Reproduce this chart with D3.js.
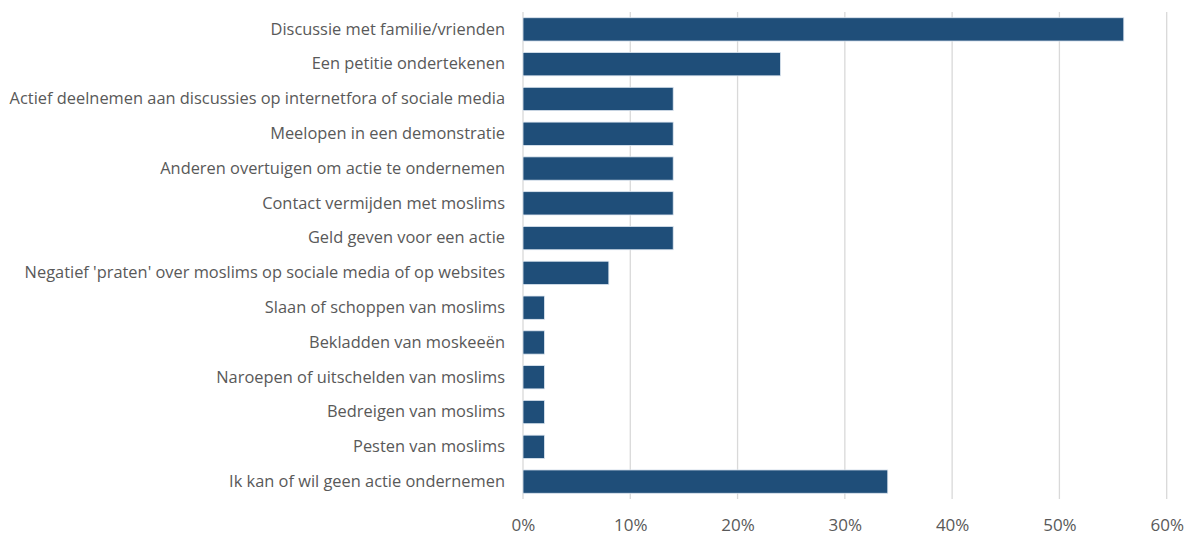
<!DOCTYPE html>
<html>
<head>
<meta charset="utf-8">
<script src="https://cdnjs.cloudflare.com/ajax/libs/d3/7.8.5/d3.min.js"></script>
<style>
  body { margin: 0; background: #fff; }
  text { font-family: "Open Sans", "Noto Sans", sans-serif; fill: #595959; }
</style>
</head>
<body>
<script>
// data
var categories = [
  "Discussie met familie/vrienden",
  "Een petitie ondertekenen",
  "Actief deelnemen aan discussies op internetfora of sociale media",
  "Meelopen in een demonstratie",
  "Anderen overtuigen om actie te ondernemen",
  "Contact vermijden met moslims",
  "Geld geven voor een actie",
  "Negatief 'praten' over moslims op sociale media of op websites",
  "Slaan of schoppen van moslims",
  "Bekladden van moskeeën",
  "Naroepen of uitschelden van moslims",
  "Bedreigen van moslims",
  "Pesten van moslims",
  "Ik kan of wil geen actie ondernemen"
];
var values = [56, 24, 14, 14, 14, 14, 14, 8, 2, 2, 2, 2, 2, 34];
var xTicks = [0, 10, 20, 30, 40, 50, 60];

// layout
var margin = {top: 12, right: 25, bottom: 37, left: 523},
    width = 1192 - margin.left - margin.right,
    height = 536 - margin.top - margin.bottom;

var x = d3.scaleLinear().domain([0, 60]).range([0, 1166.7 - margin.left]);
var y = d3.scaleBand().domain(categories).range([0, 487]).paddingInner(0.33).paddingOuter(0.165);

var svg = d3.select("body").append("svg")
    .attr("width", 1192)
    .attr("height", 536);

var g = svg.append("g")
    .attr("transform", "translate(" + margin.left + "," + margin.top + ")");

// grid lines
g.selectAll(".grid")
  .data(xTicks)
  .enter().append("line")
    .attr("class", "grid")
    .attr("x1", function(d) { return x(d); })
    .attr("x2", function(d) { return x(d); })
    .attr("y1", 0)
    .attr("y2", 487)
    .attr("stroke", "#d9d9d9")
    .attr("stroke-width", 1.3);

// bars
g.selectAll(".bar")
  .data(values)
  .enter().append("rect")
    .attr("class", "bar")
    .attr("x", x(0))
    .attr("y", function(d, i) { return y(categories[i]); })
    .attr("width", function(d) { return x(d) - x(0); })
    .attr("height", y.bandwidth())
    .attr("fill", "#1f4e79")
    .attr("stroke", "#dde6f0")
    .attr("stroke-width", 0.8);

// x axis
var xAxis = g.append("g")
    .attr("transform", "translate(0," + 487 + ")")
    .call(d3.axisBottom(x).tickValues(xTicks).tickSize(0).tickPadding(20)
      .tickFormat(function(d) { return d + "%"; }));
xAxis.select(".domain").remove();
xAxis.selectAll("text")
    .style("font-size", "17px")
    .style("fill", "#595959");

// y axis
var yAxis = g.append("g")
    .call(d3.axisLeft(y).tickSize(0).tickPadding(18));
yAxis.select(".domain").remove();
yAxis.selectAll("text")
    .style("font-size", "16.4px")
    .style("fill", "#595959");
</script>
</body>
</html>
